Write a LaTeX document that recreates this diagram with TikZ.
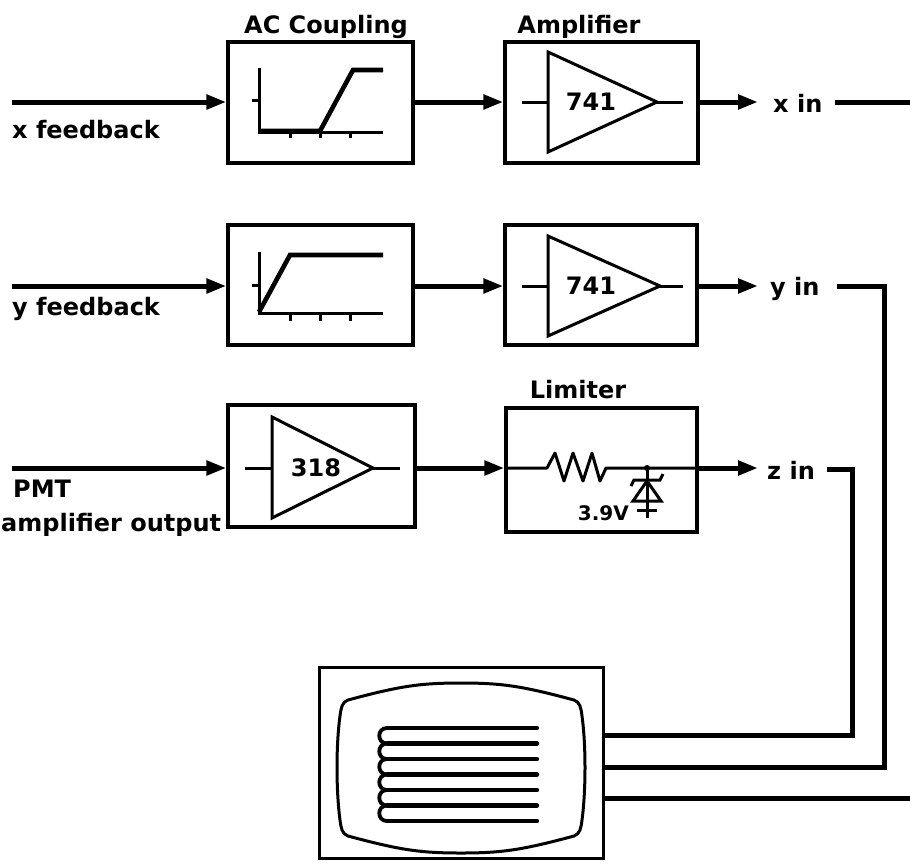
\documentclass[tikz,border=0pt]{standalone}
\usepackage{fontspec}
\setmainfont{DejaVu Sans}
\usetikzlibrary{arrows.meta}
\begin{document}
\begin{tikzpicture}[x=1pt,y=-1pt,
  box/.style={draw,line width=3.2pt,inner sep=0pt},
  sig/.style={line width=5pt,line join=miter},
  sigarrow/.style={line width=5pt,-{Triangle[length=20pt,width=14pt]}},
  wire/.style={line width=3pt,line join=miter},
  resp/.style={line width=4.6pt,line join=miter},
  lbl/.style={font=\bfseries\fontsize{24}{24}\selectfont,inner sep=0pt},
  small/.style={font=\bfseries\fontsize{20}{20}\selectfont,inner sep=0pt},
]
\useasboundingbox (0,0) rectangle (910,863);

% ---------- signal rows ----------
\coordinate (xsig) at (12,102);
\coordinate (ysig) at (12,286);
\coordinate (zsig) at (12,468);

% ---------- blocks ----------
\node[box,minimum width=185pt,minimum height=121pt] (acx)  at (320.5,102.5) {};
\node[box,minimum width=193pt,minimum height=121pt] (ampx) at (601.5,102.5) {};
\node[box,minimum width=185pt,minimum height=120pt] (acy)  at (320.5,285) {};
\node[box,minimum width=192pt,minimum height=120pt] (ampy) at (601,285) {};
\node[box,minimum width=187pt,minimum height=122pt] (pre)  at (321.5,466) {};
\node[box,minimum width=191pt,minimum height=124pt] (lim)  at (601.5,470) {};
\node[box,line width=3pt,minimum width=284pt,minimum height=191pt] (crt) at (461,762.5) {};

% ---------- headings ----------
\node[lbl,anchor=base] (hac)  at (326,33)  {AC Coupling};
\node[lbl,anchor=base] (hamp) at (579,33)  {Amplifier};
\node[lbl,anchor=base] (hlim) at (578,398) {Limiter};

% ---------- input labels ----------
\node[lbl,anchor=base west] (lx) at (12,138) {x feedback};
\node[lbl,anchor=base west] (ly) at (12,315) {y feedback};
\node[lbl,anchor=base west] (lp1) at (13,497) {PMT};
\node[lbl,anchor=base west] (lp2) at (1,531) {amplifier output};

% ---------- AC coupling responses ----------
% x channel
\draw[wire] (259,68) -- (259,132) -- (383,132);
\draw[wire] (252,100) -- (259,100);
\foreach \t in {290,320,350} \draw[wire] (\t,132) -- (\t,138);
\draw[resp] (259,131) -- (320,131) -- (353,70) -- (383,70);
% y channel
\draw[wire] (259,252) -- (259,313) -- (383,313);
\draw[wire] (252,285) -- (259,285);
\foreach \t in {290,320,350} \draw[wire] (\t,313) -- (\t,321);
\draw[resp] (259,312) -- (290,255) -- (383,255);

% ---------- op-amps ----------
\draw[wire] (548,52) -- (548,152) -- (657,102) -- cycle;
\draw[wire] (522,102) -- (548,102) (657,102) -- (683,102);
\node[lbl] (ax) at (591,102) {741};

\draw[wire] (548,236) -- (548,336) -- (660,286) -- cycle;
\draw[wire] (522,286) -- (548,286) (660,286) -- (683,286);
\node[lbl] (ay) at (591,286) {741};

\draw[wire] (272,417) -- (272,518) -- (373,468) -- cycle;
\draw[wire] (245,468) -- (272,468) (373,468) -- (400,468);
\node[lbl] (az) at (316,468) {318};

% ---------- limiter: resistor and zener ----------
\draw[wire,line join=round] (lim.west |- zsig) -- (547,468) -- (555,453) -- (564,481)
  -- (573,453) -- (583,481) -- (592,453) -- (600,481) -- (606,468) -- (lim.east |- zsig);
\draw[wire] (647,468) -- (647,518);
\draw[wire] (631,486) -- (634,480) -- (660,480) -- (663,474);
\draw[wire,line join=miter] (647,481) -- (633,501) -- (661,501) -- cycle;
\draw[wire] (637,510) -- (657,510);
\fill (647,468) circle (3pt);
\node[small,anchor=base east] (zv) at (629,520) {3.9V};

% ---------- signal connectors ----------
\draw[sigarrow] (xsig) -- (acx.west |- xsig);
\draw[sigarrow] (acx.east |- xsig) -- (ampx.west |- xsig);
\coordinate (xo) at (758,102);
\draw[sigarrow] (ampx.east |- xsig) -- (xo);

\draw[sigarrow] (ysig) -- (acy.west |- ysig);
\draw[sigarrow] (acy.east |- ysig) -- (ampy.west |- ysig);
\coordinate (yo) at (758,286);
\draw[sigarrow] (ampy.east |- ysig) -- (yo);

\draw[sigarrow] (zsig) -- (pre.west |- zsig);
\draw[sigarrow] (pre.east |- zsig) -- (lim.west |- zsig);
\coordinate (zo) at (758,468);
\draw[sigarrow] (lim.east |- zsig) -- (zo);

% ---------- output labels ----------
\node[lbl,anchor=base west] (xin) at (773,112) {x in};
\node[lbl,anchor=base west] (yin) at (770,295) {y in};
\node[lbl,anchor=base west] (zin) at (767,479) {z in};

% ---------- cables to the display ----------
\coordinate (xc0) at (835,102);
\coordinate (xc1) at (910,102);
\draw[sig] (xc0) -- (xc1);

\coordinate (yc0) at (837,286);
\coordinate (yc1) at (884,767);
\draw[sig] (yc0) -| (yc1) -- (crt.east |- yc1);

\coordinate (zc0) at (827,469);
\coordinate (zc1) at (852,735);
\draw[sig] (zc0) -| (zc1) -- (crt.east |- zc1);

\coordinate (xc2) at (910,798);
\draw[sig] (crt.east |- xc2) -- (xc2);

% ---------- display screen ----------
\draw[line width=3pt]
  (348,700) .. controls (400,686) and (420,683) .. (461,683)
  .. controls (502,683) and (522,686) .. (574,700)
  .. controls (580,702) and (581,708) .. (582,716)
  .. controls (586,745) and (586,790) .. (582,820)
  .. controls (581,828) and (580,834) .. (574,836)
  .. controls (522,850) and (502,853) .. (461,853)
  .. controls (420,853) and (400,850) .. (348,836)
  .. controls (342,834) and (341,828) .. (340,820)
  .. controls (336,790) and (336,745) .. (340,716)
  .. controls (341,708) and (342,702) .. (348,700) -- cycle;

% raster lines
\foreach \r in {728,743.5,759,774.5,790,805.5,821}
  \draw[line width=4.4pt,line cap=round] (387,\r) -- (537,\r);
\draw[line width=3.8pt]
  (387,728) .. controls (376.7,728) and (376.7,743.5) .. (387,743.5)
  .. controls (376.7,743.5) and (376.7,759) .. (387,759)
  .. controls (376.7,759) and (376.7,774.5) .. (387,774.5)
  .. controls (376.7,774.5) and (376.7,790) .. (387,790)
  .. controls (376.7,790) and (376.7,805.5) .. (387,805.5)
  .. controls (376.7,805.5) and (376.7,821) .. (387,821);
\end{tikzpicture}
\end{document}
